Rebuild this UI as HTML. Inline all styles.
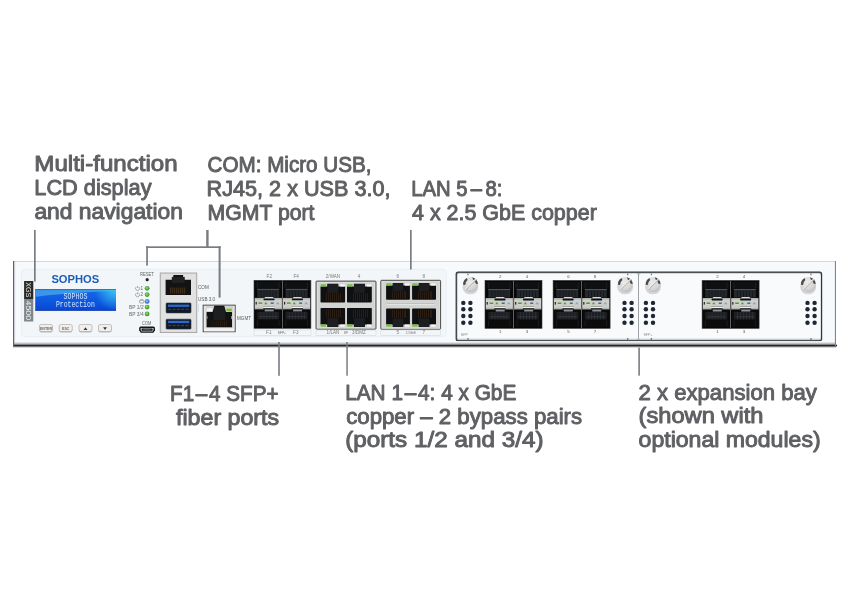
<!DOCTYPE html>
<html><head><meta charset="utf-8"><style>
html,body{margin:0;padding:0;background:#fff;}
body{width:850px;height:610px;overflow:hidden;}
svg{display:block;will-change:transform;}
</style></head><body>
<svg width="850" height="610" viewBox="0 0 850 610">
<rect width="850" height="610" fill="#fff"/>

<defs>
 <linearGradient id="lcdg" x1="0" y1="0" x2="0" y2="1">
  <stop offset="0" stop-color="#1668e4"/>
  <stop offset="0.5" stop-color="#0e5ae0"/>
  <stop offset="1" stop-color="#0846d4"/>
 </linearGradient>
 <linearGradient id="lcdu" x1="0" y1="0" x2="1" y2="0">
  <stop offset="0" stop-color="#3a95ea"/>
  <stop offset="1" stop-color="#3c9eee"/>
 </linearGradient>
 <radialGradient id="lcdglow" gradientUnits="userSpaceOnUse" cx="116" cy="289" r="22">
  <stop offset="0" stop-color="#3fd4f8" stop-opacity="0.9"/>
  <stop offset="1" stop-color="#3fd4f8" stop-opacity="0"/>
 </radialGradient>
 <linearGradient id="botg" x1="0" y1="0" x2="0" y2="1">
  <stop offset="0" stop-color="#f0f3f6"/>
  <stop offset="1" stop-color="#909498"/>
 </linearGradient>
 <linearGradient id="modsh" x1="0" y1="0" x2="0" y2="1">
  <stop offset="0" stop-color="#f8fafc" stop-opacity="0"/>
  <stop offset="1" stop-color="#b8bcc0"/>
 </linearGradient>
 <linearGradient id="shd" x1="0" y1="0" x2="0" y2="1">
  <stop offset="0" stop-color="#9a9a9a"/>
  <stop offset="1" stop-color="#ffffff"/>
 </linearGradient>
 <linearGradient id="band" x1="0" y1="0" x2="0" y2="1">
  <stop offset="0" stop-color="#a8a8a4"/>
  <stop offset="0.2" stop-color="#cfcfcb"/>
  <stop offset="0.8" stop-color="#cbcbc7"/>
  <stop offset="1" stop-color="#9a9a96"/>
 </linearGradient>
 <radialGradient id="screwg" cx="0.42" cy="0.35" r="0.7">
  <stop offset="0" stop-color="#ececec"/>
  <stop offset="0.7" stop-color="#d4d4d4"/>
  <stop offset="1" stop-color="#b4b4b4"/>
 </radialGradient>
 <radialGradient id="ledg" cx="0.45" cy="0.4" r="0.6">
  <stop offset="0" stop-color="#8fe070"/>
  <stop offset="1" stop-color="#2c8a20"/>
 </radialGradient>
 <radialGradient id="ledb" cx="0.45" cy="0.4" r="0.6">
  <stop offset="0" stop-color="#8cc8ff"/>
  <stop offset="1" stop-color="#1a60c0"/>
 </radialGradient>
 <linearGradient id="usbblk" x1="0" y1="0" x2="0" y2="1">
  <stop offset="0" stop-color="#e4e4e4"/>
  <stop offset="1" stop-color="#d4d4d4"/>
 </linearGradient>

 <!-- one SFP cage, 28.5 x 48 -->
 <g id="sfp">
  <rect x="0" y="0" width="28.5" height="48" fill="#070707"/>
  <rect x="1.2" y="1.5" width="26" height="7" fill="#0f1011"/>
  <rect x="3" y="2" width="1" height="6" fill="#1c1d1f"/><rect x="24.5" y="2" width="1" height="6" fill="#1c1d1f"/>
  <rect x="3.2" y="8.6" width="22" height="8.6" fill="#24272b"/>
  <rect x="3.2" y="8.6" width="22" height="1" fill="#4c535b"/>
  <g fill="#17191c">
   <rect x="6.5" y="10.5" width="0.9" height="6.5"/><rect x="9.5" y="10.5" width="0.9" height="6.5"/>
   <rect x="12.5" y="10.5" width="0.9" height="6.5"/><rect x="15.5" y="10.5" width="0.9" height="6.5"/>
   <rect x="18.5" y="10.5" width="0.9" height="6.5"/><rect x="21.5" y="10.5" width="0.9" height="6.5"/>
  </g>
  <rect x="0.6" y="17.6" width="27.3" height="11.7" fill="url(#band)"/>
  <rect x="1.6" y="21.6" width="1.2" height="2.6" fill="#222"/>
  <path d="M10.5 18.1 Q10.5 16.7 11.8 16.7 H18.4 Q19.7 16.7 19.7 18.1 Z" fill="#dadada"/>
  <rect x="9.5" y="18.1" width="11" height="1.9" rx="0.6" fill="#121212"/>
  <rect x="9.3" y="25.8" width="11.3" height="0.5" fill="#333"/>
  <rect x="9.3" y="26.3" width="11.3" height="1.5" fill="#f0f0f0"/>
  <rect x="9.2" y="27.9" width="11.5" height="1.3" rx="0.5" fill="#121212"/>
  <rect x="4.6" y="22.1" width="3.6" height="1.5" fill="#4a9e30"/>
  <rect x="5.3" y="23.6" width="2.2" height="0.7" fill="#c8e8b0"/>
  <path d="M10.2 23.9 L11.8 21.6 L13.5 23.9 Z" fill="#4aa236"/>
  <rect x="16.7" y="22.1" width="3" height="1.5" fill="#3470b0"/>
  <path d="M21.9 23.9 L23.7 21.7 L25.5 23.9 Z" fill="#6aaee0"/>
  <rect x="1.2" y="29.3" width="26" height="17.3" fill="#0b0b0c"/>
  <rect x="10.7" y="29.2" width="9" height="2" fill="#8a9098"/>
  <rect x="3.2" y="31.5" width="22" height="7.5" fill="#1c1e21"/>
  <g fill="#2c2f33">
   <rect x="6.5" y="31.5" width="0.9" height="7.5"/><rect x="9.5" y="31.5" width="0.9" height="7.5"/>
   <rect x="12.5" y="31.5" width="0.9" height="7.5"/><rect x="15.5" y="31.5" width="0.9" height="7.5"/>
   <rect x="18.5" y="31.5" width="0.9" height="7.5"/><rect x="21.5" y="31.5" width="0.9" height="7.5"/>
  </g>
  <rect x="5" y="36" width="18.5" height="0.8" fill="#3a3d41"/>
  <rect x="3" y="40" width="1" height="6" fill="#1a1b1d"/><rect x="24.5" y="40" width="1" height="6" fill="#1a1b1d"/>
 </g>

 <!-- RJ45 top-row port 25 x 19.5 (notch top) -->
 <g id="rjt">
  <path d="M0 3 H7 V0 H18 V3 H25 V19 Q25 19.5 24.5 19.5 H0.5 Q0 19.5 0 19 Z" fill="#141414"/>
  <rect x="7" y="0.5" width="11" height="9" fill="#1e1e1e"/>
  <g fill="#4e3219">
   <rect x="6" y="11" width="0.6" height="7"/><rect x="8" y="11" width="0.6" height="7"/>
   <rect x="10" y="11" width="0.6" height="7"/><rect x="12" y="11" width="0.6" height="7"/>
   <rect x="14" y="11" width="0.6" height="7"/><rect x="16" y="11" width="0.6" height="7"/>
   <rect x="18" y="11" width="0.6" height="7"/><rect x="20" y="11" width="0.6" height="7"/>
  </g>
  <rect x="0.3" y="0.6" width="5.5" height="2.2" fill="#6cc040"/>
  <rect x="19.5" y="0.6" width="5" height="2.2" fill="#f4f4f4"/>
 </g>
 <!-- RJ45 bottom-row port (notch bottom) -->
 <g id="rjb">
  <path d="M0 0.5 Q0 0 0.5 0 H24.5 Q25 0 25 0.5 V16.5 H18 V19.5 H7 V16.5 H0 Z" fill="#141414"/>
  <rect x="7" y="10" width="11" height="9" fill="#1e1e1e"/>
  <g fill="#44301c">
   <rect x="6" y="1.5" width="0.6" height="7"/><rect x="8" y="1.5" width="0.6" height="7"/>
   <rect x="10" y="1.5" width="0.6" height="7"/><rect x="12" y="1.5" width="0.6" height="7"/>
   <rect x="14" y="1.5" width="0.6" height="7"/><rect x="16" y="1.5" width="0.6" height="7"/>
   <rect x="18" y="1.5" width="0.6" height="7"/><rect x="20" y="1.5" width="0.6" height="7"/>
  </g>
  <rect x="0.3" y="16.9" width="5.5" height="2.2" fill="#6cc040"/>
  <rect x="19.5" y="16.9" width="5" height="2.2" fill="#f4f4f4"/>
 </g>

 <!-- screw r=8 -->
 <g id="screw">
  <ellipse cx="0" cy="2.4" rx="7.9" ry="7.4" fill="#c2c5c8" opacity="0.7"/>
  <circle cx="0" cy="0" r="7.6" fill="url(#screwg)"/>
  <path d="M-7.3 0.2 A7.4 7.4 0 0 1 -3.6 -6.4 L-2.8 -4.4 Q-4.8 -3 -5.2 0.4 Z" fill="#4c4c4c"/>
  <path d="M1.8 -7.3 A7.5 7.5 0 0 1 7.5 -0.6 L5.5 -0.8 Q4.8 -3.4 2.6 -4.9 Z" fill="#4c4c4c"/>
  <path d="M-5.2 5.4 L5.6 -5.4" stroke="#f4f4f4" stroke-width="1.5"/>
  <path d="M-4.9 5.7 L5.9 -5.1" stroke="#7c6c54" stroke-width="0.6"/>
 </g>
 <!-- dot grid -->
 <g id="dots" fill="#1f2636">
  <circle cx="0" cy="0" r="2.2"/><circle cx="7.1" cy="0" r="2.2"/>
  <circle cx="0" cy="6.4" r="2.2"/><circle cx="7.1" cy="6.4" r="2.2"/>
  <circle cx="0" cy="13.1" r="2.2"/><circle cx="7.1" cy="13.1" r="2.2"/>
  <circle cx="0" cy="19.8" r="2.2"/><circle cx="7.1" cy="19.8" r="2.2"/>
 </g>
</defs>

<rect x="13" y="346" width="823" height="2.5" fill="url(#shd)"/>
<rect x="13" y="261" width="823" height="85" fill="#f6fafd"/>
<rect x="14.2" y="262" width="1.2" height="80" fill="#e8ecf0"/>
<rect x="13" y="261" width="823" height="1" fill="#d2d8e0"/>
<rect x="13" y="342" width="823" height="2.8" fill="url(#botg)"/>
<rect x="13" y="344.7" width="824" height="1.7" fill="#232426"/>
<rect x="13" y="261" width="1.2" height="85" fill="#5c626a"/>
<rect x="834.9" y="261" width="1.1" height="85" fill="#7e848c"/>
<rect x="21.5" y="269.3" width="424.8" height="67.4" rx="3.5" fill="#f2f6f9" stroke="#e8ecf0" stroke-width="0.8"/>
<rect x="24.1" y="281" width="9.2" height="18" fill="#2a2a28"/>
<rect x="24.1" y="299" width="9.2" height="22.5" fill="#7f878c"/>
<g font-family="Liberation Sans, sans-serif" font-size="8" fill="#e6e6e6">
<text transform="translate(25.8 282.2) rotate(90)" textLength="15" lengthAdjust="spacingAndGlyphs">XGS</text>
<text transform="translate(25.8 300.5) rotate(90)" textLength="19.5" lengthAdjust="spacingAndGlyphs" fill="#eef0f0">4500</text>
</g>
<text x="51.4" y="283" font-family="Liberation Sans, sans-serif" font-weight="bold" font-size="10.8" fill="#1c5db8" textLength="47.8" lengthAdjust="spacingAndGlyphs">SOPHOS</text>
<rect x="35.2" y="289.2" width="80.8" height="21.5" fill="url(#lcdg)"/>
<path d="M35.2 289.2 H116 V291 C100 291.4 62 293.2 35.2 296.8 Z" fill="url(#lcdu)"/>
<rect x="35.2" y="289.2" width="80.8" height="21.5" fill="url(#lcdglow)"/>
<rect x="35.2" y="289.2" width="80.8" height="0.9" fill="#2d6cae"/>
<rect x="35.2" y="309.9" width="80.8" height="0.8" fill="#1c3ea8"/>
<g font-family="Liberation Mono, monospace" font-size="8.2" fill="#d8e6fc">
<text x="63.6" y="298.9" textLength="23.8" lengthAdjust="spacingAndGlyphs">SOPHOS</text>
<text x="55.9" y="306.8" textLength="38.9" lengthAdjust="spacingAndGlyphs">Protection</text>
</g>
<rect x="39.5" y="325.2" width="13" height="7.2" rx="1.6" fill="#b8b8b8"/>
<rect x="39.5" y="324.5" width="13" height="7" rx="1.6" fill="#f1efed" stroke="#a4a4a4" stroke-width="0.6"/>
<text x="46.0" y="329.8" font-size="3.6" text-anchor="middle" fill="#6a6a6a" font-family="Liberation Sans, sans-serif" font-weight="bold">ENTER</text>
<rect x="59.2" y="325.2" width="13" height="7.2" rx="1.6" fill="#b8b8b8"/>
<rect x="59.2" y="324.5" width="13" height="7" rx="1.6" fill="#f1efed" stroke="#a4a4a4" stroke-width="0.6"/>
<text x="65.7" y="329.8" font-size="3.6" text-anchor="middle" fill="#6a6a6a" font-family="Liberation Sans, sans-serif" font-weight="bold">ESC</text>
<rect x="79" y="325.2" width="13" height="7.2" rx="1.6" fill="#b8b8b8"/>
<rect x="79" y="324.5" width="13" height="7" rx="1.6" fill="#f1efed" stroke="#a4a4a4" stroke-width="0.6"/>
<rect x="98.5" y="325.2" width="13" height="7.2" rx="1.6" fill="#b8b8b8"/>
<rect x="98.5" y="324.5" width="13" height="7" rx="1.6" fill="#f1efed" stroke="#a4a4a4" stroke-width="0.6"/>
<path d="M83.6 330 L85.5 327.3 L87.4 330 Z" fill="#333"/>
<path d="M103.1 327.3 L105 330 L106.9 327.3 Z" fill="#333"/>
<g font-family="Liberation Sans, sans-serif" fill="#555">
<text x="146.9" y="276.1" font-size="5" text-anchor="middle" fill="#606060" textLength="13.8" lengthAdjust="spacingAndGlyphs">RESET</text>
</g>
<circle cx="147.2" cy="279.7" r="1.6" fill="#1c2230"/>
<circle cx="147.1" cy="288.3" r="2.4" fill="url(#ledg)"/>
<circle cx="147.1" cy="294.6" r="2.4" fill="url(#ledg)"/>
<circle cx="147.1" cy="301.4" r="2.4" fill="url(#ledb)"/>
<circle cx="147.1" cy="307.1" r="2.4" fill="url(#ledg)"/>
<circle cx="147.1" cy="313.9" r="2.4" fill="url(#ledg)"/>
<g fill="none" stroke="#6a6a6a" stroke-width="0.55">
<path d="M136.2 287.0 A2 2 0 1 0 138.9 287.0"/><path d="M137.55 285.8 V288.0"/>
<path d="M136.2 293.3 A2 2 0 1 0 138.9 293.3"/><path d="M137.55 292.1 V294.3"/>
<rect x="139.6" y="300.1" width="4.2" height="2.9" rx="0.6"/><path d="M140.4 300.1 Q141.7 298.9 143 300.1"/>
</g>
<g font-family="Liberation Sans, sans-serif" fill="#666">
<text x="141.9" y="290.1" font-size="4.6" text-anchor="middle" fill="#666" >1</text>
<text x="141.9" y="296.4" font-size="4.6" text-anchor="middle" fill="#666" >2</text>
<text x="143.6" y="308.8" font-size="4.6" text-anchor="end" fill="#666" textLength="14.5" lengthAdjust="spacingAndGlyphs">BP 1/2</text>
<text x="143.6" y="315.6" font-size="4.6" text-anchor="end" fill="#666" textLength="14.5" lengthAdjust="spacingAndGlyphs">BP 3/4</text>
<text x="146.7" y="324.8" font-size="4.5" text-anchor="middle" fill="#666" textLength="9.4" lengthAdjust="spacingAndGlyphs">COM</text>
</g>
<path d="M139.2 328.2 Q139.2 326.6 140.8 326.6 H153.4 Q155 326.6 155 328.2 V330.2 L153.4 332.7 H140.8 L139.2 330.2 Z" fill="#141414"/>
<path d="M140.6 328.4 Q140.6 327.9 141.1 327.9 H153.1 Q153.6 327.9 153.6 328.4 V329.9 L152.7 331.4 H141.5 L140.6 329.9 Z" fill="#cfcfcf"/>
<rect x="141.6" y="328.6" width="11" height="2.1" rx="0.5" fill="#1a1a1a"/>
<rect x="143.5" y="329.4" width="7.2" height="0.6" fill="#8a6a3a"/>
<rect x="160.2" y="273" width="36.6" height="59.6" fill="#dcdcdc" stroke="#9a9a9a" stroke-width="0.8"/>
<rect x="161.4" y="274.2" width="34.2" height="57.2" fill="#e2e2e2"/>
<path d="M165.6 279.7 H171.9 V276.9 H173.3 V274.9 H183.1 V276.9 H184.5 V279.7 H191 V294.9 H165.6 Z" fill="#131313"/>
<rect x="171.9" y="276.9" width="12.6" height="6" fill="#222"/>
<g fill="#6a4a28"><rect x="170.5" y="287.5" width="0.6" height="6"/><rect x="172.5" y="287.5" width="0.6" height="6"/><rect x="174.5" y="287.5" width="0.6" height="6"/><rect x="176.5" y="287.5" width="0.6" height="6"/><rect x="178.5" y="287.5" width="0.6" height="6"/><rect x="180.5" y="287.5" width="0.6" height="6"/><rect x="182.5" y="287.5" width="0.6" height="6"/><rect x="184.5" y="287.5" width="0.6" height="6"/></g>
<rect x="166.1" y="303" width="24.9" height="9.9" rx="0.8" fill="#121a26" stroke="#2a3240" stroke-width="0.6"/>
<rect x="168" y="304.6" width="21.2" height="2.3" fill="#2b69cf"/>
<g fill="#4a5260"><rect x="168.3" y="308.8" width="2.8" height="0.8"/><rect x="172.60000000000002" y="308.8" width="2.8" height="0.8"/><rect x="176.9" y="308.8" width="2.8" height="0.8"/><rect x="181.20000000000002" y="308.8" width="2.8" height="0.8"/><rect x="185.5" y="308.8" width="2.8" height="0.8"/></g>
<rect x="166.1" y="319.2" width="24.9" height="9.9" rx="0.8" fill="#121a26" stroke="#2a3240" stroke-width="0.6"/>
<rect x="168" y="320.8" width="21.2" height="2.3" fill="#2b69cf"/>
<g fill="#4a5260"><rect x="168.3" y="325.0" width="2.8" height="0.8"/><rect x="172.60000000000002" y="325.0" width="2.8" height="0.8"/><rect x="176.9" y="325.0" width="2.8" height="0.8"/><rect x="181.20000000000002" y="325.0" width="2.8" height="0.8"/><rect x="185.5" y="325.0" width="2.8" height="0.8"/></g>
<text x="198" y="289.2" font-size="4.6" text-anchor="start" fill="#5a5a5a" font-family="Liberation Sans, sans-serif">COM</text>
<text x="198" y="301.2" font-size="4.6" text-anchor="start" fill="#5a5a5a" font-family="Liberation Sans, sans-serif">USB 3.0</text>
<rect x="198.5" y="304" width="0.5" height="8" fill="#c8ccd0"/>
<rect x="203.1" y="305.1" width="32.1" height="26.7" fill="#d2d2d2" stroke="#333" stroke-width="0.8"/>
<rect x="204" y="328.2" width="30.3" height="3.1" fill="#f2f2f2"/>
<rect x="204" y="306" width="1.6" height="22" fill="#e8e8e8"/><rect x="233" y="306" width="1.4" height="22" fill="#e0e0e0"/>
<path d="M206.6 312 H212.6 L214.4 305.8 H224.2 L226 312 H232 V327.2 H206.6 Z" fill="#121212"/>
<path d="M214.2 307 H224.4 L225.4 320 H213.2 Z" fill="#1d1e20"/>
<rect x="206.8" y="308.2" width="5.4" height="2.8" fill="#f6f6f6"/>
<rect x="226.4" y="308.6" width="5.4" height="2.8" fill="#7ac23a"/>
<rect x="206.6" y="316" width="0.9" height="3" fill="#999"/><rect x="231.1" y="316" width="0.9" height="3" fill="#999"/>
<g fill="#3a2410"><rect x="211.6" y="320.5" width="0.6" height="6"/><rect x="213.7" y="320.5" width="0.6" height="6"/><rect x="215.8" y="320.5" width="0.6" height="6"/><rect x="217.9" y="320.5" width="0.6" height="6"/><rect x="220.0" y="320.5" width="0.6" height="6"/><rect x="222.1" y="320.5" width="0.6" height="6"/><rect x="224.2" y="320.5" width="0.6" height="6"/><rect x="226.3" y="320.5" width="0.6" height="6"/></g>
<text x="237" y="319.5" font-size="4.6" text-anchor="start" fill="#5a5a5a" font-family="Liberation Sans, sans-serif">MGMT</text>
<use href="#sfp" x="254" y="280.3"/>
<use href="#sfp" x="282.4" y="280.3"/>
<rect x="254" y="280.3" width="56.9" height="48" fill="none" stroke="#3a3a3a" stroke-width="0.6"/>
<rect x="282.1" y="280.3" width="0.8" height="48" fill="#6a6a6a"/>
<g font-family="Liberation Sans, sans-serif">
<text x="269.3" y="277.6" font-size="4.6" text-anchor="middle" fill="#7a7a7a" >F2</text>
<text x="296.1" y="277.6" font-size="4.6" text-anchor="middle" fill="#7a7a7a" >F4</text>
<text x="268.8" y="334.2" font-size="4.6" text-anchor="middle" fill="#7a7a7a" >F1</text>
<text x="295.8" y="334.2" font-size="4.6" text-anchor="middle" fill="#7a7a7a" >F3</text>
<text x="281.9" y="334.0" font-size="3.2" text-anchor="middle" fill="#5a5a5a" >SFP+</text>
</g>
<rect x="254" y="330" width="56.9" height="5.6" fill="none" stroke="#d0d4d8" stroke-width="0.5"/>
<rect x="316" y="281.1" width="60" height="48.1" rx="0.8" fill="#c9c9c7" stroke="#3c3c3c" stroke-width="0.9"/>
<rect x="317.3" y="282.3" width="57.4" height="45.7" fill="#d3d3d1" stroke="#e6e6e6" stroke-width="0.6"/>
<path d="M320.50 286.50 H327.39 V283.80 H338.21 V286.50 H345.10 V301.80 Q345.10 302.60 344.30 302.60 H321.30 Q320.50 302.60 320.50 301.80 Z" fill="#0f1012"/>
<rect x="327.39" y="284.10" width="10.82" height="8.65" fill="#1d1e21"/>
<rect x="320.70" y="284.20" width="5.3" height="2.3" fill="#72c43c"/>
<rect x="340.20" y="284.30" width="4.6" height="2.2" fill="#f6f6f6"/>
<g fill="#4a3019" opacity="0.85"><rect x="326.20" y="293.20" width="0.55" height="8.08"/><rect x="328.20" y="293.20" width="0.55" height="8.08"/><rect x="330.20" y="293.20" width="0.55" height="8.08"/><rect x="332.20" y="293.20" width="0.55" height="8.08"/><rect x="334.20" y="293.20" width="0.55" height="8.08"/><rect x="336.20" y="293.20" width="0.55" height="8.08"/><rect x="338.20" y="293.20" width="0.55" height="8.08"/><rect x="340.20" y="293.20" width="0.55" height="8.08"/></g>
<path d="M347.00 286.50 H353.94 V283.80 H364.86 V286.50 H371.80 V301.80 Q371.80 302.60 371.00 302.60 H347.80 Q347.00 302.60 347.00 301.80 Z" fill="#0f1012"/>
<rect x="353.94" y="284.10" width="10.91" height="8.65" fill="#1d1e21"/>
<rect x="347.20" y="284.20" width="5.3" height="2.3" fill="#72c43c"/>
<rect x="366.90" y="284.30" width="4.6" height="2.2" fill="#f6f6f6"/>
<g fill="#4a3019" opacity="0.85"><rect x="353.20" y="293.20" width="0.55" height="8.08"/><rect x="355.20" y="293.20" width="0.55" height="8.08"/><rect x="357.20" y="293.20" width="0.55" height="8.08"/><rect x="359.20" y="293.20" width="0.55" height="8.08"/><rect x="361.20" y="293.20" width="0.55" height="8.08"/><rect x="363.20" y="293.20" width="0.55" height="8.08"/><rect x="365.20" y="293.20" width="0.55" height="8.08"/><rect x="367.20" y="293.20" width="0.55" height="8.08"/></g>
<path d="M320.50 308.70 Q320.50 307.90 321.30 307.90 H344.30 Q345.10 307.90 345.10 308.70 V324.40 H338.21 V327.10 H327.39 V324.40 H320.50 Z" fill="#0f1012"/>
<rect x="327.39" y="318.27" width="10.82" height="8.53" fill="#1d1e21"/>
<rect x="320.70" y="324.40" width="5.3" height="2.3" fill="#72c43c"/>
<rect x="340.20" y="324.50" width="4.6" height="2.2" fill="#f6f6f6"/>
<g fill="#4a3019" opacity="0.85"><rect x="326.20" y="309.44" width="0.55" height="8.06"/><rect x="328.20" y="309.44" width="0.55" height="8.06"/><rect x="330.20" y="309.44" width="0.55" height="8.06"/><rect x="332.20" y="309.44" width="0.55" height="8.06"/><rect x="334.20" y="309.44" width="0.55" height="8.06"/><rect x="336.20" y="309.44" width="0.55" height="8.06"/><rect x="338.20" y="309.44" width="0.55" height="8.06"/><rect x="340.20" y="309.44" width="0.55" height="8.06"/></g>
<path d="M347.00 308.70 Q347.00 307.90 347.80 307.90 H371.00 Q371.80 307.90 371.80 308.70 V324.40 H364.86 V327.10 H353.94 V324.40 H347.00 Z" fill="#0f1012"/>
<rect x="353.94" y="318.27" width="10.91" height="8.53" fill="#1d1e21"/>
<rect x="347.20" y="324.40" width="5.3" height="2.3" fill="#72c43c"/>
<rect x="366.90" y="324.50" width="4.6" height="2.2" fill="#f6f6f6"/>
<g fill="#4a3019" opacity="0.85"><rect x="353.20" y="309.44" width="0.55" height="8.06"/><rect x="355.20" y="309.44" width="0.55" height="8.06"/><rect x="357.20" y="309.44" width="0.55" height="8.06"/><rect x="359.20" y="309.44" width="0.55" height="8.06"/><rect x="361.20" y="309.44" width="0.55" height="8.06"/><rect x="363.20" y="309.44" width="0.55" height="8.06"/><rect x="365.20" y="309.44" width="0.55" height="8.06"/><rect x="367.20" y="309.44" width="0.55" height="8.06"/></g>
<rect x="316" y="330" width="60" height="5.6" fill="none" stroke="#d0d4d8" stroke-width="0.5"/>
<g font-family="Liberation Sans, sans-serif">
<text x="333" y="277.6" font-size="4.6" text-anchor="middle" fill="#7a7a7a" >2/WAN</text>
<text x="359" y="277.6" font-size="4.6" text-anchor="middle" fill="#7a7a7a" >4</text>
<text x="333" y="334.2" font-size="4.6" text-anchor="middle" fill="#7a7a7a" >1/LAN</text>
<text x="359" y="334.2" font-size="4.6" text-anchor="middle" fill="#7a7a7a" >3/DMZ</text>
<text x="346" y="334.0" font-size="3.0" text-anchor="middle" fill="#777" >BP</text>
</g>
<rect x="380.8" y="280.3" width="59.8" height="49" rx="0.8" fill="#c9c9c7" stroke="#3c3c3c" stroke-width="0.9"/>
<rect x="382.1" y="281.5" width="57.199999999999996" height="46.6" fill="#d3d3d1" stroke="#e6e6e6" stroke-width="0.6"/>
<path d="M386.10 285.60 H392.76 V282.90 H403.24 V285.60 H409.90 V298.90 Q409.90 299.70 409.10 299.70 H386.90 Q386.10 299.70 386.10 298.90 Z" fill="#0f1012"/>
<rect x="392.76" y="283.20" width="10.47" height="7.73" fill="#1d1e21"/>
<rect x="386.30" y="283.30" width="5.3" height="2.3" fill="#72c43c"/>
<rect x="405.00" y="283.40" width="4.6" height="2.2" fill="#f6f6f6"/>
<g fill="#4a3019" opacity="0.85"><rect x="392.20" y="291.30" width="0.55" height="7.22"/><rect x="394.20" y="291.30" width="0.55" height="7.22"/><rect x="396.20" y="291.30" width="0.55" height="7.22"/><rect x="398.20" y="291.30" width="0.55" height="7.22"/><rect x="400.20" y="291.30" width="0.55" height="7.22"/><rect x="402.20" y="291.30" width="0.55" height="7.22"/><rect x="404.20" y="291.30" width="0.55" height="7.22"/><rect x="405.20" y="291.30" width="0.55" height="7.22"/></g>
<path d="M412.10 285.60 H418.79 V282.90 H429.31 V285.60 H436.00 V298.90 Q436.00 299.70 435.20 299.70 H412.90 Q412.10 299.70 412.10 298.90 Z" fill="#0f1012"/>
<rect x="418.79" y="283.20" width="10.52" height="7.73" fill="#1d1e21"/>
<rect x="412.30" y="283.30" width="5.3" height="2.3" fill="#72c43c"/>
<rect x="431.10" y="283.40" width="4.6" height="2.2" fill="#f6f6f6"/>
<g fill="#4a3019" opacity="0.85"><rect x="418.20" y="291.30" width="0.55" height="7.22"/><rect x="420.20" y="291.30" width="0.55" height="7.22"/><rect x="422.20" y="291.30" width="0.55" height="7.22"/><rect x="424.20" y="291.30" width="0.55" height="7.22"/><rect x="426.20" y="291.30" width="0.55" height="7.22"/><rect x="428.20" y="291.30" width="0.55" height="7.22"/><rect x="430.20" y="291.30" width="0.55" height="7.22"/><rect x="431.20" y="291.30" width="0.55" height="7.22"/></g>
<path d="M386.10 309.30 Q386.10 308.50 386.90 308.50 H409.10 Q409.90 308.50 409.90 309.30 V324.40 H403.24 V327.10 H392.76 V324.40 H386.10 Z" fill="#0f1012"/>
<rect x="392.76" y="318.54" width="10.47" height="8.26" fill="#1d1e21"/>
<rect x="386.30" y="324.40" width="5.3" height="2.3" fill="#72c43c"/>
<rect x="405.00" y="324.50" width="4.6" height="2.2" fill="#f6f6f6"/>
<g fill="#4a3019" opacity="0.85"><rect x="392.20" y="309.99" width="0.55" height="7.81"/><rect x="394.20" y="309.99" width="0.55" height="7.81"/><rect x="396.20" y="309.99" width="0.55" height="7.81"/><rect x="398.20" y="309.99" width="0.55" height="7.81"/><rect x="400.20" y="309.99" width="0.55" height="7.81"/><rect x="402.20" y="309.99" width="0.55" height="7.81"/><rect x="404.20" y="309.99" width="0.55" height="7.81"/><rect x="405.20" y="309.99" width="0.55" height="7.81"/></g>
<path d="M412.10 309.30 Q412.10 308.50 412.90 308.50 H435.20 Q436.00 308.50 436.00 309.30 V324.40 H429.31 V327.10 H418.79 V324.40 H412.10 Z" fill="#0f1012"/>
<rect x="418.79" y="318.54" width="10.52" height="8.26" fill="#1d1e21"/>
<rect x="412.30" y="324.40" width="5.3" height="2.3" fill="#72c43c"/>
<rect x="431.10" y="324.50" width="4.6" height="2.2" fill="#f6f6f6"/>
<g fill="#4a3019" opacity="0.85"><rect x="418.20" y="309.99" width="0.55" height="7.81"/><rect x="420.20" y="309.99" width="0.55" height="7.81"/><rect x="422.20" y="309.99" width="0.55" height="7.81"/><rect x="424.20" y="309.99" width="0.55" height="7.81"/><rect x="426.20" y="309.99" width="0.55" height="7.81"/><rect x="428.20" y="309.99" width="0.55" height="7.81"/><rect x="430.20" y="309.99" width="0.55" height="7.81"/><rect x="431.20" y="309.99" width="0.55" height="7.81"/></g>
<rect x="386.8" y="303.4" width="47.8" height="0.7" fill="#b4b4b2"/>
<rect x="386.8" y="304.09999999999997" width="47.8" height="0.7" fill="#ececec"/>
<rect x="380.8" y="330" width="59.8" height="5.6" fill="none" stroke="#d0d4d8" stroke-width="0.5"/>
<g font-family="Liberation Sans, sans-serif">
<text x="397.8" y="277.6" font-size="4.6" text-anchor="middle" fill="#7a7a7a" >6</text>
<text x="423.8" y="277.6" font-size="4.6" text-anchor="middle" fill="#7a7a7a" >8</text>
<text x="397.8" y="334.2" font-size="4.6" text-anchor="middle" fill="#7a7a7a" >5</text>
<text x="423.8" y="334.2" font-size="4.6" text-anchor="middle" fill="#7a7a7a" >7</text>
<text x="410.8" y="334.0" font-size="3.0" text-anchor="middle" fill="#777" >2.5GbE</text>
</g>
<rect x="456.2" y="272.2" width="365.4" height="68.6" rx="2" fill="#7a7e82" stroke="#34373a" stroke-width="1.2"/>
<rect x="457.3" y="273.6" width="180.9" height="66.2" rx="2.2" fill="#f8fafc"/>
<rect x="638.9" y="273.6" width="181.9" height="66.2" rx="2.2" fill="#f8fafc"/>
<rect x="457.3" y="273.6" width="363.5" height="0.7" fill="#ffffff"/>
<rect x="457.3" y="337.2" width="363.5" height="2.6" fill="url(#modsh)"/>
<rect x="455.6" y="341.2" width="366.6" height="0.9" fill="#ffffff"/>
<rect x="467.5" y="273.6" width="1" height="1.6" fill="#555"/>
<rect x="467.5" y="338" width="1" height="1.8" fill="#555"/>
<rect x="627.3" y="273.6" width="1" height="1.6" fill="#555"/>
<rect x="627.3" y="338" width="1" height="1.8" fill="#555"/>
<rect x="650.8" y="273.6" width="1" height="1.6" fill="#555"/>
<rect x="650.8" y="338" width="1" height="1.8" fill="#555"/>
<rect x="810.5" y="273.6" width="1" height="1.6" fill="#555"/>
<rect x="810.5" y="338" width="1" height="1.8" fill="#555"/>
<use href="#screw" x="470.4" y="284.5"/>
<use href="#screw" x="625.2" y="284.5"/>
<use href="#screw" x="653" y="284.5"/>
<use href="#screw" x="808.2" y="284.5"/>
<use href="#dots" x="463.3" y="302.9"/>
<use href="#dots" x="624.5" y="302.9"/>
<use href="#dots" x="645.9" y="302.9"/>
<use href="#dots" x="807.5" y="302.9"/>
<use href="#sfp" x="485" y="280.4"/>
<use href="#sfp" x="513.5" y="280.4"/>
<rect x="513.1" y="280.4" width="0.8" height="48" fill="#6a6a6a"/>
<rect x="485" y="280.4" width="57" height="48" fill="none" stroke="#3a3a3a" stroke-width="0.6"/>
<use href="#sfp" x="553.1" y="280.4"/>
<use href="#sfp" x="581.6" y="280.4"/>
<rect x="581.2" y="280.4" width="0.8" height="48" fill="#6a6a6a"/>
<rect x="553.1" y="280.4" width="57" height="48" fill="none" stroke="#3a3a3a" stroke-width="0.6"/>
<use href="#sfp" x="702.1" y="280.4"/>
<use href="#sfp" x="730.6" y="280.4"/>
<rect x="730.2" y="280.4" width="0.8" height="48" fill="#6a6a6a"/>
<rect x="702.1" y="280.4" width="57" height="48" fill="none" stroke="#3a3a3a" stroke-width="0.6"/>
<g font-family="Liberation Sans, sans-serif">
<text x="500.3" y="278.3" font-size="4.4" text-anchor="middle" fill="#5a5a5a" >2</text>
<text x="527" y="278.3" font-size="4.4" text-anchor="middle" fill="#5a5a5a" >4</text>
<text x="500.3" y="333" font-size="4.4" text-anchor="middle" fill="#5a5a5a" >1</text>
<text x="527" y="333" font-size="4.4" text-anchor="middle" fill="#5a5a5a" >3</text>
<text x="568.4" y="278.3" font-size="4.4" text-anchor="middle" fill="#5a5a5a" >6</text>
<text x="595.1" y="278.3" font-size="4.4" text-anchor="middle" fill="#5a5a5a" >8</text>
<text x="568.4" y="333" font-size="4.4" text-anchor="middle" fill="#5a5a5a" >5</text>
<text x="595.1" y="333" font-size="4.4" text-anchor="middle" fill="#5a5a5a" >7</text>
<text x="717.4" y="278.3" font-size="4.4" text-anchor="middle" fill="#5a5a5a" >2</text>
<text x="744.1" y="278.3" font-size="4.4" text-anchor="middle" fill="#5a5a5a" >4</text>
<text x="717.4" y="333" font-size="4.4" text-anchor="middle" fill="#5a5a5a" >1</text>
<text x="744.1" y="333" font-size="4.4" text-anchor="middle" fill="#5a5a5a" >3</text>
<text x="464.3" y="336.2" font-size="3.6" text-anchor="middle" fill="#8a8a8a" >SFP</text>
<text x="648" y="336.2" font-size="3.6" text-anchor="middle" fill="#8a8a8a" >SFP+</text>
</g>
<g font-family="Liberation Sans, sans-serif" font-weight="normal" font-size="21.7" fill="#5f6063" stroke="#5f6063" stroke-width="0.95" stroke-linejoin="round">
<text x="34.3" y="170.6" text-anchor="start" textLength="143.4" lengthAdjust="spacingAndGlyphs">Multi-function</text>
<text x="34.3" y="194.6" text-anchor="start" textLength="117.2" lengthAdjust="spacingAndGlyphs">LCD display</text>
<text x="34.4" y="218.6" text-anchor="start" textLength="148.5" lengthAdjust="spacingAndGlyphs">and navigation</text>
<text x="207.5" y="171.8" text-anchor="start" textLength="164" lengthAdjust="spacingAndGlyphs">COM: Micro USB,</text>
<text x="206.6" y="196" text-anchor="start" textLength="183.9" lengthAdjust="spacingAndGlyphs">RJ45, 2 x USB 3.0,</text>
<text x="207.5" y="220" text-anchor="start" textLength="107" lengthAdjust="spacingAndGlyphs">MGMT port</text>
<text x="411.2" y="195.8" text-anchor="start" textLength="91.2" lengthAdjust="spacingAndGlyphs">LAN 5 – 8:</text>
<text x="412" y="220" text-anchor="start" textLength="184.8" lengthAdjust="spacingAndGlyphs">4 x 2.5 GbE copper</text>
<text x="345.2" y="399.8" text-anchor="start" textLength="171.1" lengthAdjust="spacingAndGlyphs">LAN 1 – 4: 4 x GbE</text>
<text x="346.2" y="423.8" text-anchor="start" textLength="235.9" lengthAdjust="spacingAndGlyphs">copper – 2 bypass pairs</text>
<text x="345.2" y="447.2" text-anchor="start" textLength="198.4" lengthAdjust="spacingAndGlyphs">(ports 1/2 and 3/4)</text>
<text x="638.6" y="399.5" text-anchor="start" textLength="178.2" lengthAdjust="spacingAndGlyphs">2 x expansion bay</text>
<text x="638.6" y="423.2" text-anchor="start" textLength="124.8" lengthAdjust="spacingAndGlyphs">(shown with</text>
<text x="638.6" y="446.8" text-anchor="start" textLength="182" lengthAdjust="spacingAndGlyphs">optional modules)</text>
<text x="278.6" y="400.9" text-anchor="end" textLength="108.6" lengthAdjust="spacingAndGlyphs">F1 – 4 SFP+</text>
<text x="279.1" y="424.9" text-anchor="end" textLength="103.1" lengthAdjust="spacingAndGlyphs">fiber ports</text>
</g>
<g fill="#787c83">
<rect x="34" y="230" width="1.7" height="51.5"/>
<rect x="206.2" y="230" width="2.4" height="17"/>
<rect x="146.2" y="246.3" width="74.4" height="1.7"/>
<rect x="146.2" y="246.3" width="1.7" height="19.3"/>
<rect x="218.6" y="246.3" width="2" height="51.3"/>
<rect x="410" y="230" width="1.7" height="39.5"/>
<rect x="278.2" y="342" width="1.6" height="33.8"/>
<rect x="346.3" y="342" width="1.5" height="33.7"/>
<rect x="638.3" y="347.6" width="1.6" height="28.1"/>
</g>
</svg>
</body></html>
